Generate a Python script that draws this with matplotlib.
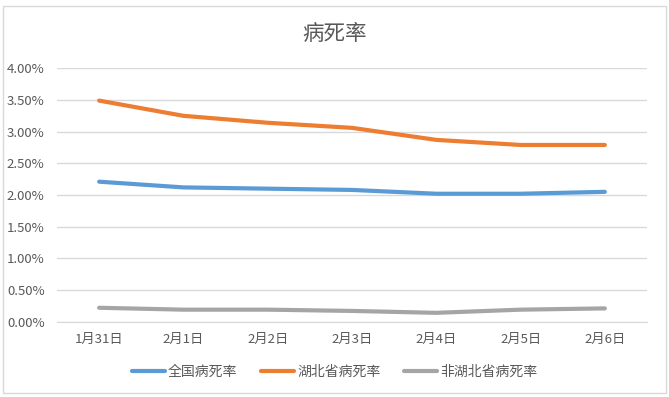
import matplotlib
matplotlib.use("Agg")
import matplotlib.pyplot as plt
from matplotlib.patches import Rectangle
from matplotlib.ticker import FuncFormatter, MultipleLocator

plt.rcParams['font.family'] = ['Noto Sans CJK SC', 'DejaVu Sans']

categories = ["1月31日", "2月1日", "2月2日", "2月3日", "2月4日", "2月5日", "2月6日"]
national = [2.21, 2.12, 2.10, 2.08, 2.02, 2.02, 2.05]
hubei = [3.49, 3.25, 3.14, 3.06, 2.87, 2.79, 2.79]
non_hubei = [0.22, 0.19, 0.19, 0.17, 0.14, 0.19, 0.21]
series_names = ["全国病死率", "湖北省病死率", "非湖北省病死率"]
title = "病死率"

W, H = 669, 397
fig = plt.figure(figsize=(W / 100, H / 100), dpi=100)
fig.patch.set_facecolor("white")
fig.patches.append(Rectangle((2.5 / W, 1 - 392.7 / H), (666 - 2.5) / W, (392.7 - 6) / H,
                             transform=fig.transFigure, fill=False,
                             edgecolor="#D9D9D9", linewidth=1))

left, right = 57 / W, 647 / W
bottom, top = 1 - 321.7 / H, 1 - 68.3 / H
ax = fig.add_axes([left, bottom, right - left, top - bottom])

colors = ["#5B9BD5", "#ED7D31", "#A5A5A5"]
x = list(range(len(categories)))
lines = []
for vals, c, name in zip([national, hubei, non_hubei], colors, series_names):
    ln, = ax.plot(x, vals, color=c, linewidth=3, solid_capstyle="round",
                  solid_joinstyle="round", label=name, zorder=3)
    lines.append(ln)

ax.set_xlim(-0.5, len(categories) - 0.5)
ax.set_ylim(0, 4)
ax.yaxis.set_major_locator(MultipleLocator(0.5))
ax.yaxis.set_major_formatter(FuncFormatter(lambda v, p: f"{v:.2f}%"))
ax.set_xticks(x)
ax.set_xticklabels(categories)
ax.grid(axis="y", color="#D9D9D9", linewidth=1)
ax.set_axisbelow(True)
for s in ["top", "right", "left"]:
    ax.spines[s].set_visible(False)
ax.spines["bottom"].set_color("#D9D9D9")
ax.tick_params(axis="both", length=0, colors="#595959", labelsize=9.5)
ax.tick_params(axis="y", pad=9)
ax.tick_params(axis="x", pad=8)

fig.text(0.5, 1 - 34 / H, title, ha="center", va="center", fontsize=15.5, color="#595959")

fig.legend(handles=lines, loc="center", bbox_to_anchor=(0.5, 1 - 371.5 / H), ncol=3,
           frameon=False, fontsize=10, handlelength=2.4, handletextpad=0.2,
           columnspacing=1.7, labelcolor="#595959")

fig.savefig("out.png", dpi=100, facecolor="white")
